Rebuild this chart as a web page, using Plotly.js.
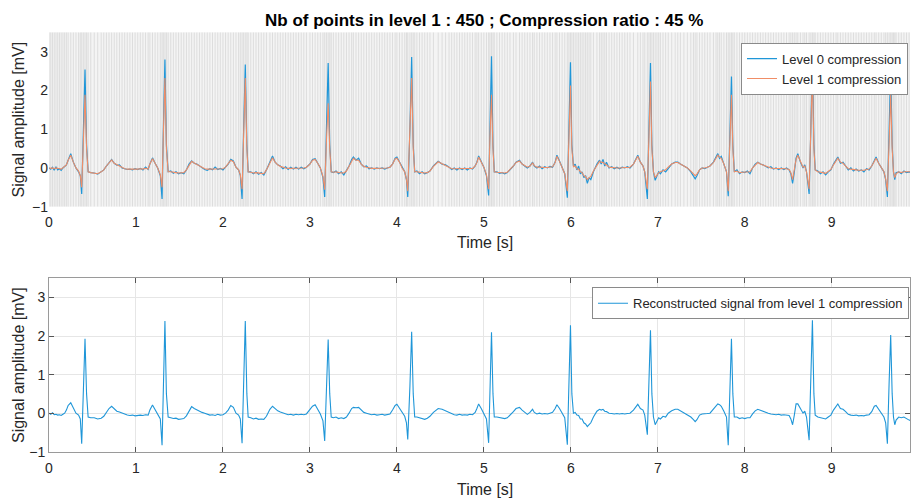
<!DOCTYPE html>
<html>
<head>
<meta charset="utf-8">
<script src="https://cdn.plot.ly/plotly-3.0.1.min.js"></script>
<style>html,body{margin:0;padding:0;background:#fff;}#chart{width:911px;height:498px;}</style>
</head>
<body>
<div id="chart"></div>
<script>
// Time samples [s] (shared by all series)
const time = [
0,0.02,0.04,0.06,0.08,0.10,0.12,0.14,0.16,0.18,0.20,0.22,0.25,0.28,0.31,0.34,0.36,0.376,0.395,0.414,0.432,0.45,0.48,0.52,0.56,0.60,0.63,0.66,0.69,0.72,0.75,0.78,0.81,0.84,0.87,0.90,0.93,0.96,0.99,1.02,1.05,1.08,1.11,1.14,
1.16,1.19,1.22,1.25,1.28,1.30,1.315,1.333,1.35,1.37,1.40,1.43,1.46,1.49,1.52,1.55,1.58,1.61,1.64,1.67,1.70,1.73,1.76,1.79,1.82,1.85,1.88,1.91,1.94,1.97,2.00,2.03,2.06,
2.09,2.12,2.15,2.18,2.20,2.22,2.238,2.257,2.275,2.29,2.32,2.35,2.38,2.41,2.44,2.47,2.50,2.54,2.57,2.60,2.63,2.66,2.69,2.72,2.75,2.78,2.81,2.84,2.87,2.90,2.93,2.96,3.00,
3.03,3.06,3.09,3.12,3.15,3.17,3.19,3.21,3.228,3.245,3.27,3.30,3.33,3.36,3.39,3.42,3.45,3.48,3.50,3.53,3.56,3.59,3.62,3.65,3.68,3.71,3.74,3.77,3.80,3.83,3.86,3.89,3.92,3.95,
3.98,4.00,4.03,4.06,4.09,4.11,4.125,4.15,4.17,4.188,4.205,4.23,4.26,4.29,4.32,4.35,4.38,4.42,4.475,4.52,4.56,4.60,4.63,4.66,4.69,4.72,4.75,4.78,4.81,4.84,4.87,4.90,4.92,
4.94,4.97,5.00,5.03,5.055,5.07,5.088,5.105,5.12,5.15,5.18,5.21,5.24,5.27,5.30,5.34,5.37,5.41,5.44,5.47,5.50,5.53,5.56,5.58,5.61,5.64,5.67,5.70,5.73,5.76,5.79,5.82,
5.84,5.87,5.90,5.93,5.96,5.978,5.996,6.012,6.03,6.05,6.07,6.09,6.11,6.13,6.15,6.17,6.19,6.21,6.23,6.26,6.30,6.33,6.35,6.37,6.39,6.41,6.44,6.47,6.50,6.53,6.56,6.59,6.62,6.65,6.68,6.72,
6.77,6.80,6.83,6.85,6.88,6.898,6.916,6.932,6.95,6.97,6.99,7.01,7.03,7.06,7.09,7.12,7.16,7.20,7.23,7.26,7.30,7.34,7.38,7.41,7.43,7.45,7.48,7.51,7.54,7.57,7.60,7.64,
7.67,7.69,7.71,7.73,7.76,7.79,7.81,7.828,7.847,7.863,7.88,7.91,7.94,7.97,8.00,8.03,8.06,8.09,8.12,8.15,8.18,8.21,8.24,8.27,8.30,8.33,8.36,8.39,8.42,8.45,8.48,8.51,8.53,8.55,8.57,8.59,
8.61,8.64,8.67,8.69,8.71,8.74,8.76,8.778,8.795,8.81,8.84,8.87,8.90,8.93,8.96,8.99,9.02,9.05,9.07,9.10,9.13,9.16,9.19,9.22,9.25,9.28,9.31,9.34,9.37,9.40,9.43,9.46,9.49,
9.51,9.54,9.57,9.60,9.62,9.64,9.66,9.678,9.695,9.71,9.725,9.74,9.77,9.80,9.83,9.86,9.89,9.92
];

// Level 0 compression (original signal) [mV]
const level0 = [
0.0,-0.03,0.02,-0.06,0.03,-0.05,-0.02,-0.06,0.0,0.03,0.08,0.2,0.37,0.15,0.0,-0.1,-0.2,-0.67,1.0,2.54,0.6,-0.1,-0.12,-0.13,-0.16,-0.1,-0.05,0.05,0.15,0.22,0.12,0.07,0.08,0.0,-0.02,-0.04,-0.03,-0.05,-0.02,-0.04,-0.01,-0.05,0.02,-0.04,
0.1,0.26,0.12,0.0,-0.2,-0.8,1.0,2.8,0.6,-0.1,-0.08,-0.14,-0.1,-0.15,-0.12,-0.15,-0.05,0.1,0.18,0.12,0.1,0.05,0.0,-0.04,-0.06,-0.02,-0.05,0.02,-0.04,-0.01,-0.05,0.02,0.1,
0.22,0.18,0.02,-0.05,-0.2,-0.8,1.0,2.67,0.6,-0.1,-0.1,-0.15,-0.1,-0.16,-0.12,-0.18,-0.05,0.15,0.31,0.15,0.08,0.05,-0.02,0.03,-0.04,0.02,-0.03,0.02,-0.03,0.02,-0.02,0.02,0.1,
0.22,0.24,0.12,0.0,-0.25,-0.75,1.0,2.71,0.6,-0.1,-0.12,-0.08,-0.15,-0.1,-0.18,-0.08,0.05,0.22,0.28,0.2,0.25,0.1,0.03,0.05,-0.02,0.0,-0.03,0.0,-0.02,0.0,-0.03,0.0,0.02,0.1,
0.25,0.28,0.15,0.0,-0.1,-0.3,-0.75,1.0,2.86,0.6,-0.1,-0.08,-0.15,-0.1,-0.15,-0.12,-0.08,0.05,0.17,0.1,0.08,0.02,-0.04,0.0,-0.05,0.0,-0.04,0.0,-0.05,0.0,-0.03,0.05,0.15,
0.31,0.15,0.02,-0.2,-0.71,1.0,2.88,0.6,-0.1,-0.1,-0.14,-0.12,-0.15,-0.12,-0.05,0.05,0.15,0.2,0.1,0.05,0.0,0.05,0.15,0.05,0.0,0.05,-0.02,0.03,0.0,0.04,0.02,0.15,
0.33,0.18,0.02,-0.15,-0.77,1.0,2.73,0.6,0.05,0.1,-0.05,0.05,-0.15,-0.1,-0.25,-0.2,-0.4,-0.25,-0.3,-0.1,0.1,0.2,0.1,0.22,0.05,0.15,0.0,0.03,-0.02,0.02,-0.02,0.02,0.0,0.03,0.0,0.1,
0.33,0.15,0.05,-0.1,-0.8,1.0,2.71,0.6,-0.1,-0.32,-0.2,-0.1,-0.15,-0.05,-0.1,0.0,0.1,0.15,0.15,0.1,0.05,0.0,-0.1,-0.2,-0.28,-0.2,-0.05,0.0,-0.02,0.02,0.05,0.15,
0.3,0.37,0.25,0.3,0.1,-0.1,-0.73,1.0,2.36,0.6,-0.1,-0.05,-0.15,-0.1,-0.12,-0.08,-0.15,0.0,0.1,0.15,0.1,0.08,0.05,0.0,0.03,-0.03,0.0,-0.04,0.0,-0.04,0.0,-0.05,-0.15,-0.4,-0.1,0.25,
0.37,0.15,0.0,0.08,-0.1,-0.67,1.0,2.95,0.6,-0.05,-0.08,-0.15,-0.1,-0.18,-0.1,-0.05,0.1,0.2,0.28,0.12,0.15,0.05,-0.05,0.0,-0.08,-0.03,-0.08,-0.05,-0.1,-0.02,-0.05,0.05,0.2,
0.28,0.12,0.0,-0.1,-0.3,-0.75,1.0,2.55,0.6,-0.1,-0.3,-0.12,-0.1,-0.15,-0.08,-0.12,-0.1,-0.12
];

// Level 1 compression (450 retained points) [mV]
const level1 = [
0.0,-0.01,0.0,-0.02,0.0,-0.02,-0.02,-0.03,0.0,0.03,0.08,0.2,0.33,0.15,0.0,-0.08,-0.2,-0.5,0.8,1.89,0.5,-0.1,-0.12,-0.13,-0.15,-0.1,-0.05,0.05,0.14,0.21,0.12,0.08,0.06,0.01,-0.02,-0.03,-0.03,-0.04,-0.03,-0.03,-0.02,-0.03,-0.01,-0.03,
0.1,0.24,0.12,0.0,-0.18,-0.5,0.9,2.32,0.5,-0.1,-0.1,-0.12,-0.12,-0.13,-0.13,-0.12,-0.05,0.08,0.17,0.13,0.09,0.05,0.01,-0.02,-0.03,-0.03,-0.03,-0.02,-0.02,-0.02,-0.02,0.02,0.1,
0.2,0.16,0.02,-0.05,-0.18,-0.55,0.9,2.32,0.5,-0.1,-0.11,-0.13,-0.12,-0.14,-0.14,-0.15,-0.05,0.13,0.26,0.15,0.08,0.04,0.01,0.0,-0.01,-0.01,-0.01,0.0,-0.01,0.0,0.0,0.02,0.1,
0.2,0.22,0.12,0.0,-0.22,-0.56,0.7,1.67,0.5,-0.1,-0.11,-0.1,-0.12,-0.12,-0.13,-0.08,0.05,0.2,0.25,0.2,0.2,0.1,0.04,0.02,0.0,-0.01,-0.01,-0.01,-0.01,-0.01,-0.01,0.0,0.02,0.1,
0.23,0.25,0.15,0.0,-0.1,-0.3,-0.6,0.9,2.32,0.5,-0.1,-0.1,-0.12,-0.12,-0.13,-0.12,-0.08,0.04,0.16,0.11,0.07,0.02,-0.02,-0.02,-0.02,-0.02,-0.02,-0.02,-0.02,-0.01,-0.01,0.05,0.14,
0.28,0.15,0.02,-0.18,-0.55,0.8,1.89,0.5,-0.1,-0.11,-0.12,-0.12,-0.13,-0.11,-0.05,0.05,0.14,0.18,0.1,0.05,0.02,0.05,0.13,0.06,0.02,0.02,0.01,0.01,0.01,0.02,0.03,0.14,
0.3,0.17,0.02,-0.15,-0.6,0.8,2.13,0.5,0.03,0.05,-0.02,-0.03,-0.1,-0.12,-0.2,-0.22,-0.3,-0.25,-0.22,-0.08,0.08,0.17,0.14,0.15,0.1,0.08,0.02,0.01,0.0,0.0,0.0,0.01,0.01,0.01,0.02,0.1,
0.3,0.15,0.05,-0.1,-0.55,0.8,2.23,0.5,-0.1,-0.25,-0.18,-0.12,-0.1,-0.07,-0.05,0.02,0.1,0.14,0.14,0.1,0.05,0.0,-0.08,-0.16,-0.2,-0.16,-0.05,0.0,0.0,0.02,0.05,0.14,
0.28,0.33,0.28,0.25,0.1,-0.1,-0.6,0.7,1.89,0.5,-0.1,-0.08,-0.12,-0.11,-0.11,-0.1,-0.1,0.0,0.08,0.14,0.1,0.07,0.04,0.02,0.0,-0.01,-0.01,-0.02,-0.02,-0.02,-0.02,-0.04,-0.12,-0.3,-0.08,0.22,
0.33,0.15,0.02,0.05,-0.1,-0.55,0.9,2.45,0.5,-0.05,-0.1,-0.12,-0.12,-0.14,-0.1,-0.04,0.08,0.18,0.25,0.15,0.12,0.05,-0.02,-0.03,-0.05,-0.05,-0.06,-0.06,-0.06,-0.04,-0.03,0.05,0.18,
0.25,0.12,0.0,-0.1,-0.28,-0.6,0.7,1.89,0.5,-0.1,-0.25,-0.15,-0.1,-0.12,-0.1,-0.1,-0.1,-0.1
];

// Reconstructed signal from level 1 compression [mV]
const recon = [
0.0,-0.03,0.01,-0.04,-0.03,-0.05,-0.04,-0.06,-0.03,0.0,0.08,0.2,0.27,0.12,0.0,-0.05,-0.15,-0.79,0.6,1.93,0.5,-0.1,-0.12,-0.12,-0.15,-0.13,-0.08,0.02,0.12,0.18,0.1,0.05,0.03,0.0,-0.03,-0.05,-0.06,-0.05,-0.07,-0.05,-0.05,-0.06,-0.04,-0.05,
0.08,0.21,0.1,-0.02,-0.15,-0.83,0.8,2.39,0.5,-0.1,-0.12,-0.14,-0.13,-0.16,-0.15,-0.14,-0.07,0.06,0.17,0.12,0.08,0.05,0.02,0.0,-0.03,-0.05,-0.04,-0.06,-0.03,-0.05,-0.04,0.0,0.08,
0.2,0.15,0.0,-0.05,-0.15,-0.78,0.8,2.39,0.5,-0.1,-0.12,-0.15,-0.13,-0.16,-0.15,-0.16,-0.08,0.1,0.18,0.12,0.06,0.03,0.0,-0.02,-0.04,-0.03,-0.05,-0.03,-0.04,-0.03,-0.04,-0.02,0.08,
0.18,0.22,0.1,-0.02,-0.2,-0.72,0.6,1.91,0.5,-0.1,-0.12,-0.1,-0.14,-0.12,-0.14,-0.1,0.0,0.12,0.15,0.14,0.15,0.08,0.02,0.0,-0.03,-0.04,-0.03,-0.05,-0.04,-0.03,-0.05,-0.04,-0.02,0.08,
0.2,0.23,0.12,0.0,-0.08,-0.25,-0.68,0.7,2.11,0.5,-0.1,-0.1,-0.12,-0.12,-0.16,-0.13,-0.08,0.02,0.12,0.1,0.06,0.0,-0.03,-0.04,-0.05,-0.03,-0.05,-0.04,-0.05,-0.03,-0.04,0.02,0.12,
0.24,0.12,0.0,-0.15,-0.77,0.7,2.1,0.5,-0.1,-0.1,-0.12,-0.12,-0.14,-0.12,-0.06,0.04,0.12,0.15,0.08,0.02,-0.03,0.02,0.1,0.02,-0.02,0.0,-0.02,-0.01,-0.02,0.0,0.02,0.12,
0.22,0.12,0.0,-0.12,-0.82,0.7,2.28,0.5,0.0,0.02,-0.05,-0.06,-0.15,-0.15,-0.25,-0.28,-0.35,-0.3,-0.25,-0.1,0.05,0.1,0.08,0.1,0.05,0.04,0.0,-0.01,-0.02,-0.01,-0.02,-0.01,-0.02,-0.01,0.0,0.08,
0.23,0.12,0.08,-0.05,-0.56,0.8,2.15,0.5,-0.1,-0.3,-0.22,-0.12,-0.15,-0.08,-0.1,0.0,0.06,0.1,0.1,0.06,0.02,-0.03,-0.1,-0.17,-0.22,-0.17,-0.05,-0.02,-0.02,-0.01,0.0,0.1,
0.2,0.24,0.22,0.18,0.05,-0.1,-0.83,0.5,1.93,0.5,-0.1,-0.1,-0.14,-0.12,-0.14,-0.12,-0.12,-0.02,0.06,0.1,0.07,0.05,0.02,0.0,-0.02,-0.03,-0.04,-0.03,-0.05,-0.04,-0.05,-0.06,-0.15,-0.3,-0.05,0.24,
0.24,0.12,0.0,0.05,-0.1,-0.7,0.9,2.41,0.5,-0.05,-0.1,-0.12,-0.12,-0.15,-0.1,-0.05,0.08,0.18,0.24,0.12,0.1,0.04,-0.03,-0.05,-0.06,-0.05,-0.07,-0.06,-0.07,-0.05,-0.04,0.04,0.18,
0.2,0.1,0.0,-0.1,-0.25,-0.79,0.8,2.03,0.5,-0.1,-0.3,-0.18,-0.1,-0.12,-0.1,-0.15,-0.18,-0.2
];

const xTicks = [0,1,2,3,4,5,6,7,8,9];
const yTicks = [-1,0,1,2,3];
const xRange = [0, 9.9];
const yRange = [-1, 3.5];

const titleText = 'Nb of points in level 1 : 450 ; Compression ratio : 45 %';
const xTitle = 'Time [s]';
const yTitle = 'Signal amplitude [mV]';

// vertical markers at each retained level-1 point
const gx = [], gy = [];
time.forEach(t => { gx.push(t, t, null); gy.push(yRange[0], yRange[1], null); });

const FONT = 'Liberation Sans, Arial, Helvetica, sans-serif';
const BLUE = '#1f96d8';
const ORANGE = '#f08d66';

const traces = [
  {x: gx, y: gy, mode: 'lines', line: {color: 'rgba(175,175,175,0.33)', width: 1},
   hoverinfo: 'skip', showlegend: false, xaxis: 'x', yaxis: 'y'},
  {x: time, y: level0, mode: 'lines', name: 'Level 0 compression',
   line: {color: BLUE, width: 1.2}, xaxis: 'x', yaxis: 'y', legend: 'legend'},
  {x: time, y: level1, mode: 'lines', name: 'Level 1 compression',
   line: {color: ORANGE, width: 1.1}, xaxis: 'x', yaxis: 'y', legend: 'legend'},
  {x: time, y: recon, mode: 'lines', name: 'Reconstructed signal from level 1 compression',
   line: {color: BLUE, width: 1.1}, xaxis: 'x2', yaxis: 'y2', legend: 'legend2'}
];

const W = 911, H = 498;
const xDom = [49 / W, 910 / W];
const y1Dom = [1 - 206.7 / H, 1 - 32.3 / H];
const y2Dom = [1 - 451.7 / H, 1 - 278.3 / H];

const tickFont = {family: FONT, size: 14, color: '#262626'};
const axTitleFont = {family: FONT, size: 16, color: '#262626'};

function axisTitles() {
  return [
    {text: '<b>' + titleText + '</b>', xref: 'paper', yref: 'paper', x: 484 / W, y: 1 - 20 / H,
     xanchor: 'center', yanchor: 'middle', showarrow: false, font: {family: FONT, size: 17, color: '#000'}},
    {text: xTitle, xref: 'paper', yref: 'paper', x: 485 / W, y: 1 - 242 / H, xanchor: 'center', yanchor: 'middle',
     showarrow: false, font: axTitleFont},
    {text: xTitle, xref: 'paper', yref: 'paper', x: 485 / W, y: 1 - 489 / H, xanchor: 'center', yanchor: 'middle',
     showarrow: false, font: axTitleFont},
    {text: yTitle, xref: 'paper', yref: 'paper', x: 18 / W, y: (y1Dom[0] + y1Dom[1]) / 2, xanchor: 'center', yanchor: 'middle',
     textangle: -90, showarrow: false, font: axTitleFont},
    {text: yTitle, xref: 'paper', yref: 'paper', x: 18 / W, y: (y2Dom[0] + y2Dom[1]) / 2, xanchor: 'center', yanchor: 'middle',
     textangle: -90, showarrow: false, font: axTitleFont}
  ];
}

const layout = {
  width: W, height: H,
  margin: {l: 0, r: 0, t: 0, b: 0},
  paper_bgcolor: '#ffffff',
  plot_bgcolor: '#ffffff',
  font: {family: FONT, color: '#262626'},
  xaxis: {domain: xDom, anchor: 'y', range: xRange, tickvals: xTicks, showgrid: false, zeroline: false,
          showline: false, ticks: '', tickfont: tickFont, ticklabelstandoff: 5},
  yaxis: {domain: y1Dom, anchor: 'x', range: yRange, tickvals: yTicks, showgrid: false, zeroline: false,
          showline: false, ticks: '', tickfont: tickFont},
  xaxis2: {domain: xDom, anchor: 'y2', range: xRange, tickvals: xTicks, showgrid: true, gridcolor: '#e6e6e6',
           zeroline: false, showline: true, linecolor: '#9a9a9a', linewidth: 1, mirror: 'ticks',
           ticks: 'inside', ticklen: 5, tickcolor: '#555', tickfont: tickFont, ticklabelstandoff: 3},
  yaxis2: {domain: y2Dom, anchor: 'x2', range: yRange, tickvals: yTicks, showgrid: true, gridcolor: '#e6e6e6',
           zeroline: false, showline: true, linecolor: '#9a9a9a', linewidth: 1, mirror: 'ticks',
           ticks: 'inside', ticklen: 5, tickcolor: '#555', tickfont: tickFont},
  annotations: axisTitles(),
  shapes: [
    {type: 'rect', xref: 'x domain', yref: 'y domain', x0: 0, x1: 1, y0: 0, y1: 1,
     fillcolor: '#f4f4f4', line: {width: 0}, layer: 'below'}
  ],
  legend: {x: 908 / W, xanchor: 'right', y: 1 - 42.7 / H, yanchor: 'top', bgcolor: '#ffffff',
           bordercolor: '#8a8a8a', borderwidth: 1, font: {family: FONT, size: 13, color: '#262626'},
           tracegroupgap: 0},
  legend2: {x: 909 / W, xanchor: 'right', y: 1 - 287.3 / H, yanchor: 'top', bgcolor: '#ffffff',
            bordercolor: '#8a8a8a', borderwidth: 1, font: {family: FONT, size: 13, color: '#262626'}},
  showlegend: true
};

Plotly.newPlot('chart', traces, layout, {displayModeBar: false, staticPlot: true});
</script>
</body>
</html>
